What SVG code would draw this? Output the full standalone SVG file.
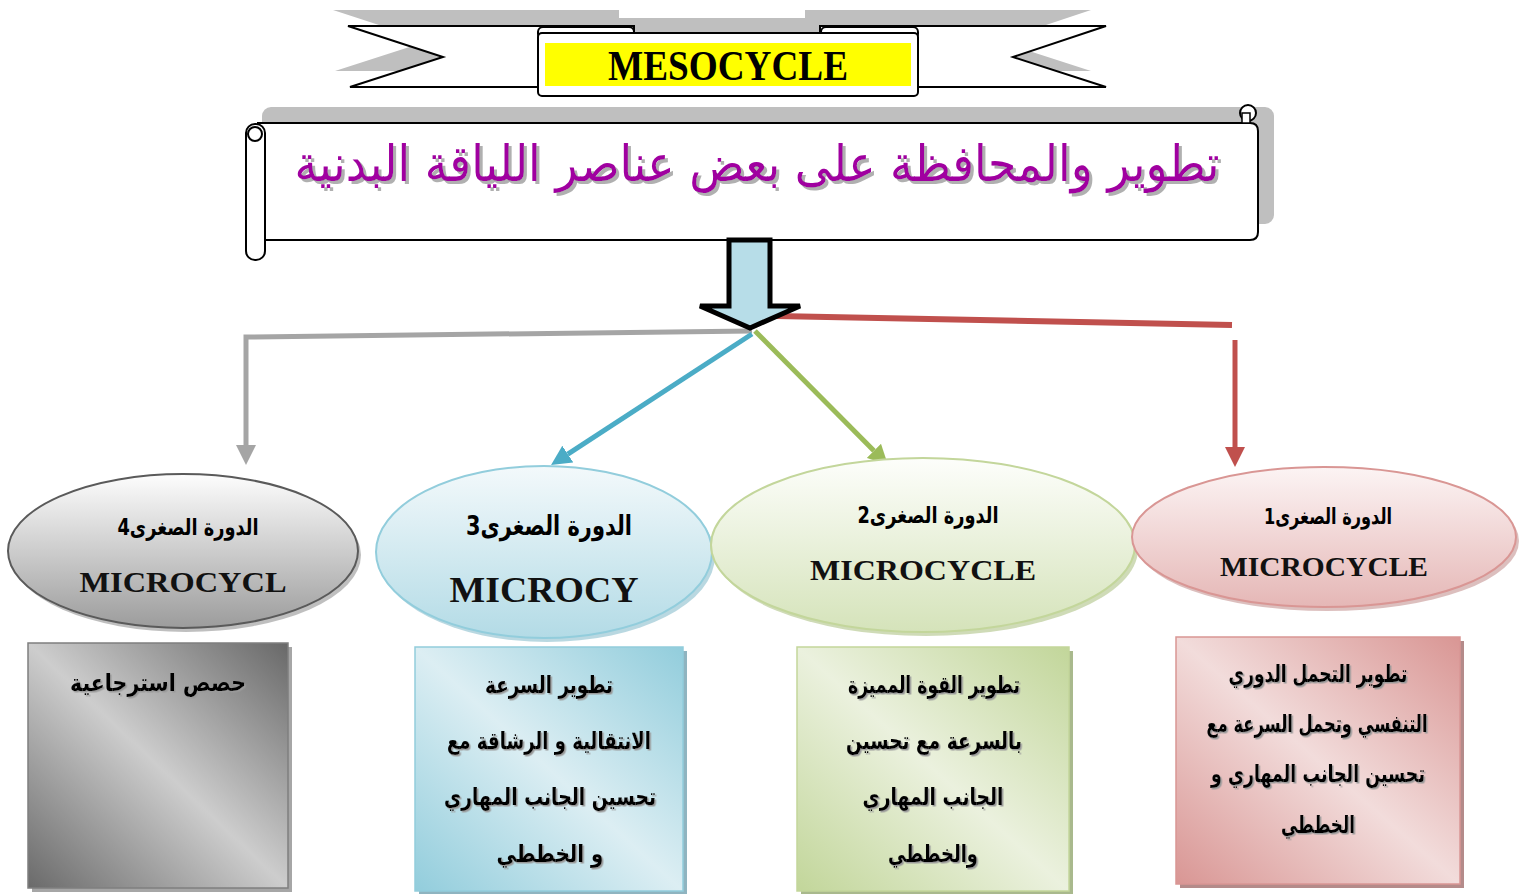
<svg xmlns="http://www.w3.org/2000/svg" width="1523" height="894" viewBox="0 0 1523 894">
<style>
.ln{fill:none;stroke-linecap:butt;stroke-linejoin:miter}
.ar{font-family:"DejaVu Sans","Noto Sans",sans-serif;font-weight:bold;text-anchor:middle;fill:#000}
.en{font-family:"Liberation Serif",serif;font-weight:bold;text-anchor:middle;fill:#111}
.bx{font-family:"DejaVu Sans","Noto Sans",sans-serif;font-weight:bold;text-anchor:middle;fill:#000;font-size:24px}
.rib{fill:#fff;stroke:#000;stroke-width:2;stroke-linejoin:miter}
</style>
<defs>
<marker id="mGray" markerUnits="userSpaceOnUse" markerWidth="20" markerHeight="20" refX="0" refY="10" orient="auto"><path d="M0,0 L20,10 L0,20 z" fill="#a5a5a5"/></marker>
<marker id="mBlue" markerUnits="userSpaceOnUse" markerWidth="20" markerHeight="20" refX="0" refY="10" orient="auto"><path d="M0,0 L20,10 L0,20 z" fill="#4bacc6"/></marker>
<marker id="mGreen" markerUnits="userSpaceOnUse" markerWidth="20" markerHeight="20" refX="0" refY="10" orient="auto"><path d="M0,0 L20,10 L0,20 z" fill="#9bbb59"/></marker>
<marker id="mRed" markerUnits="userSpaceOnUse" markerWidth="20" markerHeight="20" refX="0" refY="10" orient="auto"><path d="M0,0 L20,10 L0,20 z" fill="#c0504d"/></marker>
<linearGradient id="gE4" x1="0" y1="0" x2="0" y2="1"><stop offset="0" stop-color="#fdfdfd"/><stop offset="1" stop-color="#9c9c9c"/></linearGradient>
<linearGradient id="gE3" x1="0" y1="0" x2="0" y2="1"><stop offset="0" stop-color="#f3f9fb"/><stop offset="1" stop-color="#b3dbe6"/></linearGradient>
<linearGradient id="gE2" x1="0" y1="0" x2="0" y2="1"><stop offset="0" stop-color="#fdfefb"/><stop offset="1" stop-color="#d5e3ba"/></linearGradient>
<linearGradient id="gE1" x1="0" y1="0" x2="0" y2="1"><stop offset="0" stop-color="#fcf4f4"/><stop offset="1" stop-color="#e5b7b6"/></linearGradient>
<linearGradient id="gB4" x1="1" y1="0" x2="0" y2="1"><stop offset="0" stop-color="#686868"/><stop offset="0.5" stop-color="#cdcdcd"/><stop offset="1" stop-color="#6a6a6a"/></linearGradient>
<linearGradient id="gB3" x1="1" y1="0" x2="0" y2="1"><stop offset="0" stop-color="#92cddc"/><stop offset="0.5" stop-color="#dceef3"/><stop offset="1" stop-color="#92cddc"/></linearGradient>
<linearGradient id="gB2" x1="1" y1="0" x2="0" y2="1"><stop offset="0" stop-color="#c2d69a"/><stop offset="0.5" stop-color="#ebf1de"/><stop offset="1" stop-color="#c2d69a"/></linearGradient>
<linearGradient id="gB1" x1="1" y1="0" x2="0" y2="1"><stop offset="0" stop-color="#d99694"/><stop offset="0.5" stop-color="#f2dcdb"/><stop offset="1" stop-color="#d99694"/></linearGradient>
<filter id="tsh" x="-10%" y="-40%" width="120%" height="180%"><feDropShadow dx="3" dy="3" stdDeviation="0.6" flood-color="#b0b0b0"/></filter>
<filter id="bsh" x="-15%" y="-15%" width="130%" height="130%"><feDropShadow dx="1.5" dy="1.5" stdDeviation="0.5" flood-color="#9a9a9a"/></filter>
</defs>

<g id="banner">
<g fill="#bfbfbf">
<polygon points="333,10 619,10 619,71 335,71 428,41"/>
<polygon points="1091,10 805,10 805,71 1091,71 998,41"/>
<rect x="610" y="18" width="205" height="62"/>
</g>
<polygon class="rib" points="348,26 634,26 634,87 350,87 443,57"/>
<polygon class="rib" points="1106,26 820,26 820,87 1106,87 1013,57"/>
<rect class="rib" x="538" y="27" width="96" height="12" rx="5"/>
<rect class="rib" x="821" y="27" width="97" height="12" rx="5"/>
<rect class="rib" x="538" y="33" width="380" height="63" rx="4"/>
<rect x="545" y="43" width="366" height="43" fill="#ffff00"/>
<text x="728" y="80" font-family="Liberation Serif,serif" font-weight="bold" font-size="42" text-anchor="middle" textLength="240" lengthAdjust="spacingAndGlyphs">MESOCYCLE</text>
</g>

<g id="title">
<rect x="262" y="107" width="1012" height="117" rx="9" fill="#bfbfbf"/>
<path d="M258,123 H1250 Q1258,123 1258,131 V232 Q1258,240 1250,240 H260 Z" fill="#fff" stroke="#000" stroke-width="2"/>
<circle cx="1248" cy="113" r="8" fill="#fff" stroke="#000" stroke-width="2"/>
<rect x="1242" y="113" width="8" height="10" fill="#fff" stroke="#000" stroke-width="1.5"/>
<rect x="246" y="124" width="19" height="136" rx="9" fill="#fff" stroke="#000" stroke-width="2"/>
<circle cx="255" cy="134" r="7" fill="#fff" stroke="#000" stroke-width="2"/>
<text x="757" y="181" font-family="DejaVu Sans,sans-serif" font-size="50" fill="#a000a0" text-anchor="middle" textLength="925" lengthAdjust="spacingAndGlyphs" filter="url(#tsh)">تطوير والمحافظة على بعض عناصر اللياقة البدنية</text>
</g>

<g id="connectors">
<polyline class="ln" points="752,331 246,337 246,445" stroke="#a5a5a5" stroke-width="5" marker-end="url(#mGray)"/>
<line class="ln" x1="776" y1="316" x2="1232" y2="325" stroke="#c0504d" stroke-width="6"/>
<line class="ln" x1="1235" y1="340" x2="1235" y2="447" stroke="#c0504d" stroke-width="5" marker-end="url(#mRed)"/>
<line class="ln" x1="752" y1="334" x2="567.8" y2="454.1" stroke="#4bacc6" stroke-width="5" marker-end="url(#mBlue)"/>
<line class="ln" x1="755" y1="331" x2="873.9" y2="450.8" stroke="#9bbb59" stroke-width="5" marker-end="url(#mGreen)"/>
</g>

<g id="main-arrow">
<polygon points="729,240 770,240 770,306 800,306 750,328 700,306 729,306" fill="#b7dde8" stroke="#000" stroke-width="5" stroke-linejoin="miter"/>
</g>

<g id="micro4">
<ellipse cx="186" cy="555" rx="175" ry="77" fill="#8a8a8a" opacity="0.55"/>
<ellipse cx="183" cy="551" rx="175" ry="77" fill="url(#gE4)" stroke="#5a5a5a" stroke-width="2"/>
<text class="ar" x="188" y="535" font-size="23" textLength="141" lengthAdjust="spacingAndGlyphs">الدورة الصغرى4</text>
<text class="en" x="183" y="592" font-size="30" textLength="207" lengthAdjust="spacingAndGlyphs">MICROCYCL</text>
</g>

<g id="micro3">
<ellipse cx="547" cy="556" rx="168" ry="86" fill="#7fb8c8" opacity="0.55"/>
<ellipse cx="544" cy="552" rx="168" ry="86" fill="url(#gE3)" stroke="#92cddc" stroke-width="2"/>
<text class="ar" x="549" y="535" font-size="27" textLength="166" lengthAdjust="spacingAndGlyphs">الدورة الصغرى3</text>
<text class="en" x="544" y="602" font-size="36" textLength="189" lengthAdjust="spacingAndGlyphs">MICROCY</text>
</g>

<g id="micro2">
<ellipse cx="926" cy="549" rx="212" ry="87" fill="#a8bd7c" opacity="0.55"/>
<ellipse cx="923" cy="545" rx="212" ry="87" fill="url(#gE2)" stroke="#c3d69b" stroke-width="2"/>
<text class="ar" x="928" y="523" font-size="23" textLength="141" lengthAdjust="spacingAndGlyphs">الدورة الصغرى2</text>
<text class="en" x="923" y="580" font-size="30" textLength="226" lengthAdjust="spacingAndGlyphs">MICROCYCLE</text>
</g>

<g id="micro1">
<ellipse cx="1327" cy="541" rx="192" ry="70" fill="#c08a89" opacity="0.55"/>
<ellipse cx="1324" cy="537" rx="192" ry="70" fill="url(#gE1)" stroke="#d99694" stroke-width="2"/>
<text class="ar" x="1328" y="524" font-size="22" textLength="128" lengthAdjust="spacingAndGlyphs">الدورة الصغرى1</text>
<text class="en" x="1324" y="576" font-size="28" textLength="208" lengthAdjust="spacingAndGlyphs">MICROCYCLE</text>
</g>

<g id="box4">
<rect x="32" y="647" width="260" height="245" fill="#a6a6a6"/>
<rect x="28" y="643" width="260" height="245" fill="url(#gB4)" stroke="#7f7f7f" stroke-width="1.5"/>
<text class="bx" x="158" y="691" textLength="176" lengthAdjust="spacingAndGlyphs" filter="url(#bsh)">حصص استرجاعية</text>
</g>

<g id="box3">
<rect x="419" y="651" width="268" height="244" fill="#8fb4c0"/>
<rect x="415" y="647" width="268" height="244" fill="url(#gB3)" stroke="#92cddc" stroke-width="1.5"/>
<g filter="url(#bsh)">
<text class="bx" x="549" y="693" textLength="128" lengthAdjust="spacingAndGlyphs">تطوير السرعة</text>
<text class="bx" x="549" y="749" textLength="204" lengthAdjust="spacingAndGlyphs">الانتقالية و الرشاقة مع</text>
<text class="bx" x="550" y="805" textLength="212" lengthAdjust="spacingAndGlyphs">تحسين الجانب المهاري</text>
<text class="bx" x="550" y="862" textLength="107" lengthAdjust="spacingAndGlyphs">و الخططي</text>
</g>
</g>

<g id="box2">
<rect x="801" y="651" width="272" height="244" fill="#a9b98d"/>
<rect x="797" y="647" width="272" height="244" fill="url(#gB2)" stroke="#c3d69b" stroke-width="1.5"/>
<g filter="url(#bsh)">
<text class="bx" x="934" y="693" textLength="172" lengthAdjust="spacingAndGlyphs">تطوير القوة المميزة</text>
<text class="bx" x="934" y="749" textLength="176" lengthAdjust="spacingAndGlyphs">بالسرعة مع تحسين</text>
<text class="bx" x="933" y="805" textLength="141" lengthAdjust="spacingAndGlyphs">الجانب المهاري</text>
<text class="bx" x="933" y="862" textLength="90" lengthAdjust="spacingAndGlyphs">والخططي</text>
</g>
</g>

<g id="box1">
<rect x="1180" y="641" width="284" height="247" fill="#b48b8a"/>
<rect x="1176" y="637" width="284" height="247" fill="url(#gB1)" stroke="#d99694" stroke-width="1.5"/>
<g filter="url(#bsh)">
<text class="bx" x="1318" y="682" textLength="179" lengthAdjust="spacingAndGlyphs">تطوير التحمل الدوري</text>
<text class="bx" x="1317" y="732" font-size="21" textLength="221" lengthAdjust="spacingAndGlyphs">التنفسي وتحمل السرعة مع</text>
<text class="bx" x="1318" y="782" textLength="214" lengthAdjust="spacingAndGlyphs">تحسين الجانب المهاري و</text>
<text class="bx" x="1318" y="833" textLength="74" lengthAdjust="spacingAndGlyphs">الخططي</text>
</g>
</g>
</svg>
